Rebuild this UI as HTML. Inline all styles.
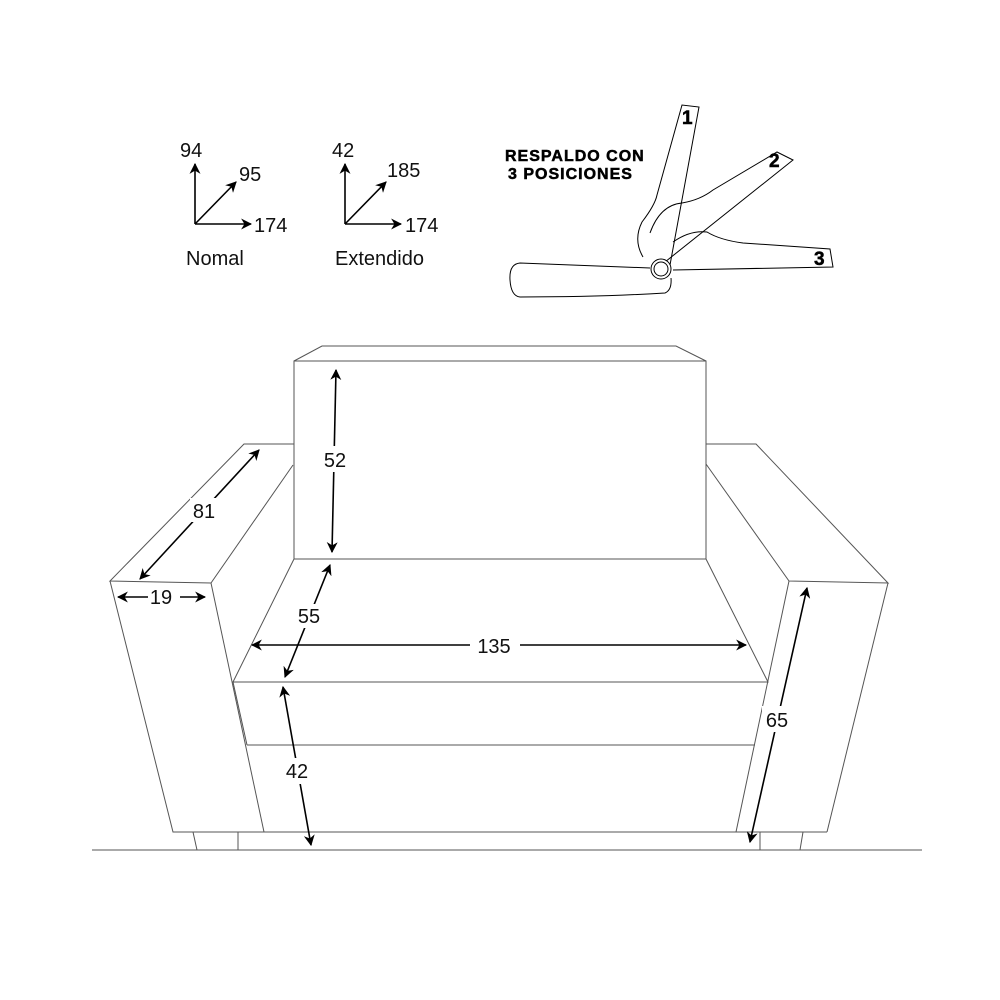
<!DOCTYPE html>
<html><head><meta charset="utf-8"><style>html,body{margin:0;padding:0;background:#fff}svg{display:block}</style></head>
<body>
<svg width="1000" height="1000" viewBox="0 0 1000 1000" xmlns="http://www.w3.org/2000/svg">
<defs>
<marker id="a" viewBox="0 0 10 10" refX="9" refY="5" markerWidth="11" markerHeight="11" orient="auto-start-reverse" markerUnits="userSpaceOnUse"><path d="M0,0 L10,5 L0,10 L3,5 Z" fill="#000"/></marker>
</defs>
<g font-family="Liberation Sans, sans-serif" font-size="20" fill="#111">
<g stroke="#000" stroke-width="1.6" fill="none" marker-end="url(#a)">
<line x1="195" y1="224" x2="195" y2="164"/>
<line x1="195" y1="224" x2="236" y2="182"/>
<line x1="195" y1="224" x2="251" y2="224"/>
<line x1="345" y1="224" x2="345" y2="164"/>
<line x1="345" y1="224" x2="386" y2="182"/>
<line x1="345" y1="224" x2="401" y2="224"/>
</g>
<text x="180" y="157">94</text><text x="239" y="181">95</text><text x="254" y="232">174</text>
<text x="186" y="265">Nomal</text>
<text x="332" y="157">42</text><text x="387" y="177">185</text><text x="405" y="232">174</text>
<text x="335" y="265">Extendido</text>
</g>
<g font-family="Liberation Sans, sans-serif" font-weight="bold" font-size="16" fill="#000" stroke="#000" stroke-width="0.5">
<text x="505" y="161" letter-spacing="1">RESPALDO CON</text>
<text x="508" y="179" letter-spacing="1">3 POSICIONES</text>
<text x="682" y="124" font-size="19">1</text>
<text x="769" y="167" font-size="19">2</text>
<text x="814" y="265" font-size="19">3</text>
</g>
<g stroke="#000" stroke-width="1" fill="none">
<path d="M650,268 L520,263 Q509,264 510,280 Q511,296 520,297 Q600,297 665,293 Q672,290 671,278"/>
<path d="M643,257 Q633,240 642,222 Q655,205 657,195 L682,105 L699,107 L670,265"/>
<path d="M650,233 Q660,205 682,203 Q700,200 713,190 L777,152 L793,160 L665,262"/>
<path d="M673,242 Q690,230 707,232 Q720,240 743,243 L830,249 L833,267 L673,270"/>
<circle cx="661" cy="269" r="10" fill="#fff"/>
<circle cx="661" cy="269" r="7"/>
</g>
<g stroke="#555" stroke-width="1" fill="none">
<line x1="92" y1="850" x2="922" y2="850"/>
<polyline points="294,361 322,346 676,346 706,361"/>
<rect x="294" y="361" width="412" height="198"/>
<polyline points="294,444 244,444 110,581 211,583 293,465"/>
<polyline points="110,581 173,832 827,832"/>
<line x1="211" y1="583" x2="264" y2="832"/>
<polyline points="706,444 756,444 888,583 789,581 706,464"/>
<line x1="888" y1="583" x2="827" y2="832"/>
<line x1="789" y1="581" x2="736" y2="832"/>
<polyline points="294,559 233,682 768,682 706,559"/>
<line x1="233" y1="682" x2="247" y2="745"/>
<line x1="247" y1="745" x2="755" y2="745"/>
<polyline points="193,832 197,850"/>
<line x1="238" y1="832" x2="238" y2="850"/>
<polyline points="760,832 760,850 800,850 803,832"/>
</g>
<g stroke="#000" stroke-width="1.6" fill="none" marker-start="url(#a)" marker-end="url(#a)">
<line x1="336" y1="370" x2="332" y2="552"/>
<line x1="259" y1="450" x2="140" y2="579"/>
<line x1="330" y1="565" x2="285" y2="677"/>
<line x1="252" y1="645" x2="746" y2="645"/>
<line x1="283" y1="687" x2="311" y2="845"/>
<line x1="807" y1="588" x2="750" y2="842"/>
</g>
<g stroke="#000" stroke-width="1.6" fill="none" marker-end="url(#a)">
<line x1="148" y1="597" x2="118" y2="597"/>
<line x1="180" y1="597" x2="205" y2="597"/>
</g>
<g font-family="Liberation Sans, sans-serif" font-size="20" fill="#111" text-anchor="middle">
<rect x="320" y="446" width="32" height="26" fill="#fff"/>
<text x="335" y="467">52</text>
<rect x="190" y="498" width="30" height="24" fill="#fff"/>
<text x="204" y="518">81</text>
<rect x="148" y="585" width="32" height="24" fill="#fff"/>
<text x="161" y="604">19</text>
<rect x="293" y="604" width="32" height="24" fill="#fff"/>
<text x="309" y="623">55</text>
<rect x="470" y="632" width="50" height="26" fill="#fff"/>
<text x="494" y="653">135</text>
<rect x="282" y="758" width="32" height="26" fill="#fff"/>
<text x="297" y="778">42</text>
<rect x="762" y="706" width="32" height="26" fill="#fff"/>
<text x="777" y="727">65</text>
</g>
</svg>
</body></html>
